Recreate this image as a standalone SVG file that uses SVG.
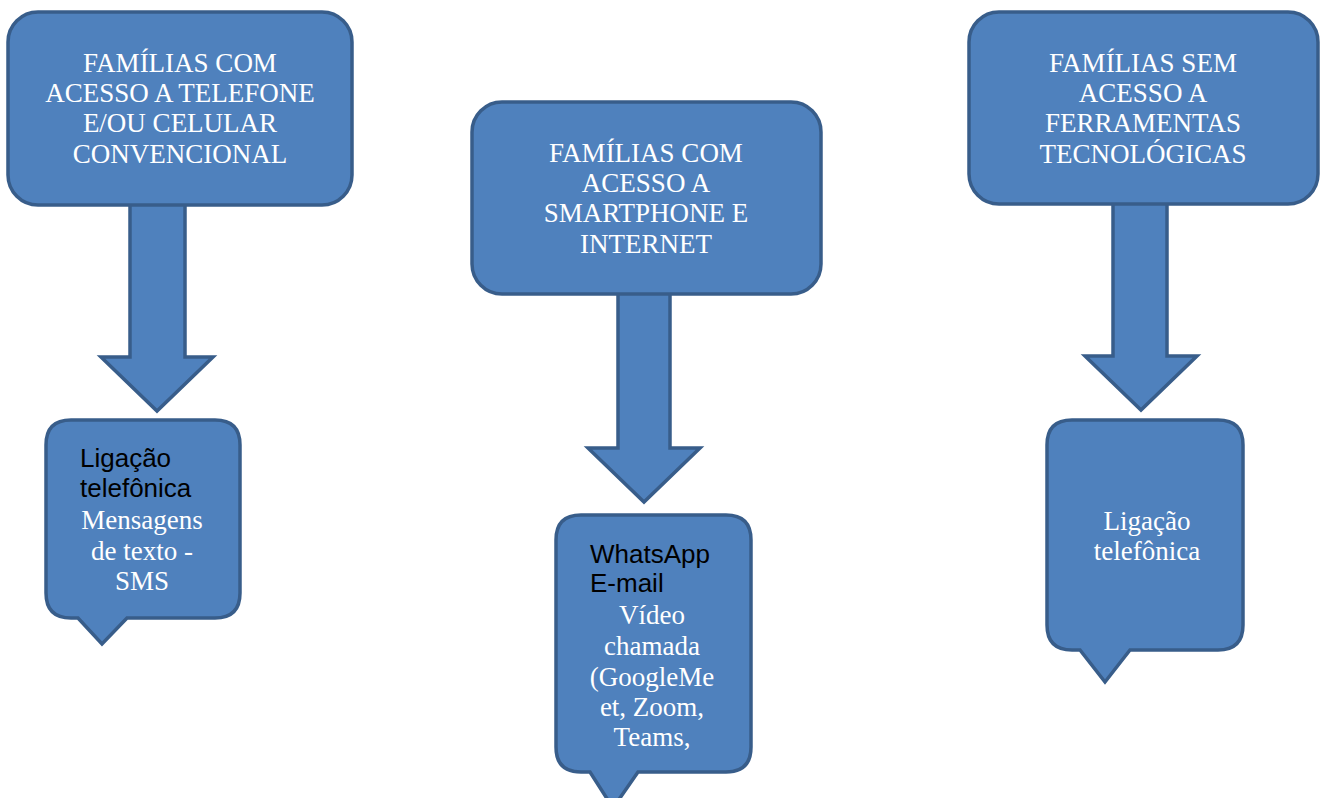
<svg xmlns="http://www.w3.org/2000/svg" width="1321" height="798" viewBox="0 0 1321 798">
<style>
.shape{fill:#4F81BD;stroke:#385D8A;stroke-width:3.5;stroke-linejoin:miter}
.serif{font-family:"Liberation Serif","Times New Roman",serif;font-size:27px;fill:#FFFFFF;text-anchor:middle}
.sans{font-family:"Liberation Sans",Arial,sans-serif;font-size:26px;fill:#000000}
</style>
<rect width="1321" height="798" fill="#FFFFFF"/>
<g id="connectors">
<path class="shape" d="M130,204 L185,204 L185,357 L213,357 L157,411 L101,357 L130,357 Z"/>
<path class="shape" d="M618,293 L670,293 L670,448 L700,448 L644,502 L588,448 L618,448 Z"/>
<path class="shape" d="M1113,203 L1167,203 L1167,356 L1197,356 L1141,410 L1085,356 L1113,356 Z"/>
</g>
<g id="box1">
<rect class="shape" x="8" y="12" width="344" height="193" rx="30" ry="30"/>
<text class="serif" x="180" y="72">FAMÍLIAS COM</text>
<text class="serif" x="180" y="102">ACESSO A TELEFONE</text>
<text class="serif" x="180" y="132">E/OU CELULAR</text>
<text class="serif" x="180" y="163">CONVENCIONAL</text>
</g>
<g id="box2">
<rect class="shape" x="472" y="102" width="349" height="192" rx="30" ry="30"/>
<text class="serif" x="646" y="162">FAMÍLIAS COM</text>
<text class="serif" x="646" y="192">ACESSO A</text>
<text class="serif" x="646" y="222">SMARTPHONE E</text>
<text class="serif" x="646" y="253">INTERNET</text>
</g>
<g id="box3">
<rect class="shape" x="969" y="12" width="349" height="192" rx="30" ry="30"/>
<text class="serif" x="1143" y="72">FAMÍLIAS SEM</text>
<text class="serif" x="1143" y="102">ACESSO A</text>
<text class="serif" x="1143" y="132">FERRAMENTAS</text>
<text class="serif" x="1143" y="163">TECNOLÓGICAS</text>
</g>
<g id="callout1">
<path class="shape" d="M71,420 L215,420 Q240,420 240,445 L240,593 Q240,618 215,618 L127,618 L102,644 L78,618 L71,618 Q46,618 46,593 L46,445 Q46,420 71,420 Z"/>
<text class="sans" x="80" y="467">Ligação</text>
<text class="sans" x="80" y="497">telefônica</text>
<text class="serif" x="142" y="529">Mensagens</text>
<text class="serif" x="142" y="560">de texto -</text>
<text class="serif" x="142" y="590">SMS</text>
</g>
<g id="callout2">
<path class="shape" d="M581,515 L726,515 Q751,515 751,540 L751,747 Q751,772 726,772 L638,772 L613,808 L590,772 L581,772 Q556,772 556,747 L556,540 Q556,515 581,515 Z"/>
<text class="sans" x="590" y="563">WhatsApp</text>
<text class="sans" x="590" y="592">E-mail</text>
<text class="serif" x="652" y="624">Vídeo</text>
<text class="serif" x="652" y="655">chamada</text>
<text class="serif" x="652" y="686">(GoogleMe</text>
<text class="serif" x="652" y="716">et, Zoom,</text>
<text class="serif" x="652" y="746">Teams,</text>
</g>
<g id="callout3">
<path class="shape" d="M1072,420 L1218,420 Q1243,420 1243,445 L1243,625 Q1243,650 1218,650 L1130,650 L1105,682 L1080,650 L1072,650 Q1047,650 1047,625 L1047,445 Q1047,420 1072,420 Z"/>
<text class="serif" x="1147" y="530">Ligação</text>
<text class="serif" x="1147" y="560">telefônica</text>
</g>
</svg>
